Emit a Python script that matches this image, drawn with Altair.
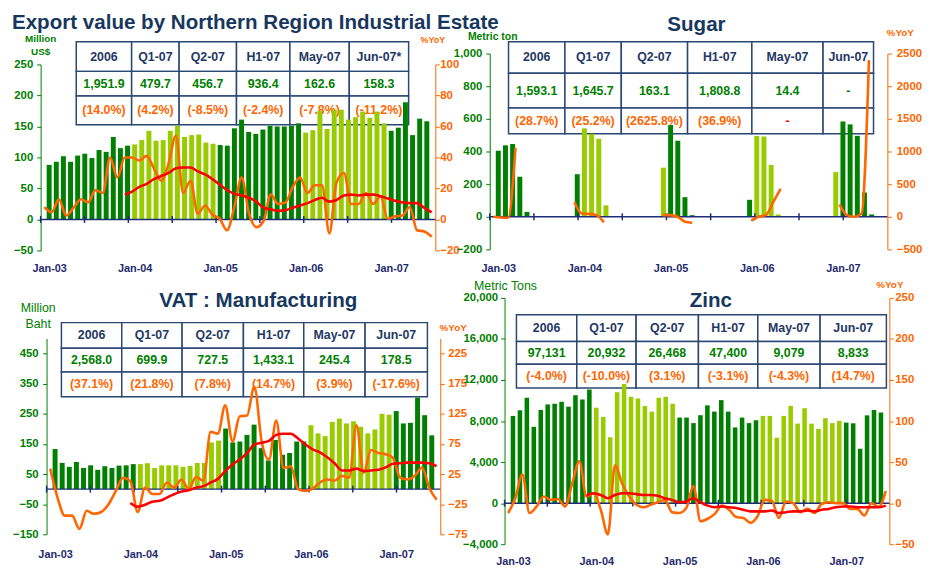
import json
import altair as alt
import pandas as pd

# ---------------- data ----------------
N_MONTHS = 54                      # Jan-03 .. Jun-07
years = [2003 + k // 12 for k in range(N_MONTHS)]
x_tick_labels = ["Jan-03", "Jan-04", "Jan-05", "Jan-06", "Jan-07"]

# Export value by Northern Region Industrial Estate (Million US$) and %YoY
export_val = [88, 93, 102, 93, 103, 106, 99, 112, 109, 133, 115, 119,
              121, 128, 143, 127, 128, 143, 151, 133, 136, 137, 124, 122,
              120, 119, 147, 161, 141, 138, 145, 151, 150, 150, 151, 155,
              140, 144, 175, 146, 177, 177, 161, 165, 174, 164, 174, 155,
              143, 148, 189, 136, 162.6, 158.3]
export_yoy = [8, 4.7, 13, 2.5, 7.5, 13, 11, 19, 17, 40, 27, 40,
              40, 38, 41, 33, 25, 36, 54, 17, 25, 3.6, 9, 3,
              0.4, -7, 8, 27, 4, -5, -1, 16, 10, 11, 21, 27,
              17, 22, 22, -9, 24, 30, 10, 10, 17, 10, 15, 0.4,
              2, 2.5, 8, -7, -7.8, -11.2]
export_ma = [None] * 11 + [16, 18, 21, 23, 26, 28, 30, 33, 33.5, 33.5, 31, 29, 26,
                           22.5, 19, 16.5, 15.5, 14, 11.5, 7.5, 6.5, 5.5, 6, 7.5, 9,
                           10.5, 12.5, 14, 11.5, 12.5, 15.5, 16, 15.5, 16, 16, 15, 13.5,
                           12, 11, 10.5, 10.5, 7.5, 4.5]

# Sugar (Metric ton) and %YoY
sugar_val = [405, 438, 446, 245, 30, 0, 0, 0, 0, 0, 0, 261,
             542, 508, 478, 70, 0, 0, 0, 0, 0, 0, 0, 301,
             562, 466, 120, 10, 0, 0, 0, 0, 0, 0, 0, 104,
             495, 492, 318, 14, 0, 0, 0, 0, 0, 0, 0, 274,
             584, 566, 496, 148.7, 14.4, 0]
sugar_yoy = [0, -10, -15, 1060, None, None, None, None, None, None, None, 226,
             50, 45, 25, -85, None, None, None, None, None, None, None, 25,
             25, 0, -75, -90, None, None, None, None, None, None, None, -60,
             0, 25, 225, 427, None, None, None, None, None, None, None, 190,
             25, 0, 50, 2400, None, None]

# VAT : Manufacturing (Million Baht) and %YoY
vat_val = [133, 87, 74, 90, 70, 79, 64, 76, 70, 78, 79, 83,
           83, 86, 70, 79, 79, 79, 74, 77, 87, 87, 155, 161,
           201, 155, 158, 180, 214, 136, 95, 163, 114, 120, 158, 158,
           212, 185, 176, 223, 234, 218, 225, 207, 185, 198, 250, 247,
           259, 218, 220, 303.6, 245.4, 178.5]
vat_yoy = [34, -14, -44, -44, -66, -36, -41, -38, -25, -3, 19, 13,
           -38, 2.5, -8, -8, 11, 2.5, 16, 0, 20, 14, 95, 92,
           139, 79, 121, 122, 170, 79, 49, 114, 35, 38, 0, -3,
           1, 11, 16, 14, 22, 19, 106, 27, 65, 60, 58, 52,
           19, 16, 22, 36, 2, -17.6]
vat_ma = [None] * 11 + [-23, -29, -26, -21, -19.5, -14, -8.5, -4, -2, 2.5, 5, 11, 17,
                        30, 41, 49, 60, 74, 77, 80, 90, 92, 92, 84, 74,
                        66, 61, 53, 43, 31, 31, 34, 30, 31, 32, 36, 42,
                        43, 44, 44, 44, 43, 38]

# Zinc (Metric Tons) and %YoY
zinc_val = [8500, 9050, 10270, 7440, 9080, 9620, 9690, 9880, 9400, 10520, 10100, 11070,
            9300, 8400, 6420, 10810, 11610, 10360, 10200, 9460, 8920, 10270, 10360, 9690,
            8340, 8340, 7800, 8570, 9530, 8920, 10040, 8920, 7380, 8340, 7800, 8080,
            8500, 8500, 6380, 8500, 9480, 7750, 9250, 7750, 7230, 8280, 7800, 8020,
            7850, 7780, 5300, 8556, 9079, 8833]
zinc_yoy = [-12, 6, 35, -12, -4, 8, 4, 5, -4, 24, 51, 8,
            12, -8, -38, 46, 24, 8, -2, -5, -2, 1, 4, -11,
            -12, -6, 21, -22, -19, -13, -3, -8, -17, -18, -24, -16,
            4, 3, -18, 2, 0, -11, -7, -12, -1, 1, 0, 0,
            -7, -7, -15, 0, -4.3, 14.7]
zinc_ma = [None] * 11 + [9, 12, 10, 6, 10, 12, 12, 11, 10, 10, 9, 6, 4,
                         1, 2, 6, 1, -3, -5, -4, -5, -6, -8, -10, -10,
                         -10, -9, -12, -11, -10, -10, -9, -10, -8, -7, -5, -4,
                         -4, -5, -5, -5, -5, -3]

# Summary tables
heads_export = ["2006", "Q1-07", "Q2-07", "H1-07", "May-07", "Jun-07*"]
heads_std = ["2006", "Q1-07", "Q2-07", "H1-07", "May-07", "Jun-07"]
export_tbl_val = ["1,951.9", "479.7", "456.7", "936.4", "162.6", "158.3"]
export_tbl_pct = ["(14.0%)", "(4.2%)", "(-8.5%)", "(-2.4%)", "(-7.8%)", "(-11.2%)"]
sugar_tbl_val = ["1,593.1", "1,645.7", "163.1", "1,808.8", "14.4", "-"]
sugar_tbl_pct = ["(28.7%)", "(25.2%)", "(2625.8%)", "(36.9%)", "-", ""]
vat_tbl_val = ["2,568.0", "699.9", "727.5", "1,433.1", "245.4", "178.5"]
vat_tbl_pct = ["(37.1%)", "(21.8%)", "(7.8%)", "(14.7%)", "(3.9%)", "(-17.6%)"]
zinc_tbl_val = ["97,131", "20,932", "26,468", "47,400", "9,079", "8,833"]
zinc_tbl_pct = ["(-4.0%)", "(-10.0%)", "(3.1%)", "(-3.1%)", "(-4.3%)", "(14.7%)"]

# ---------------- styles ----------------
FONT = "Liberation Sans"
DARK = "#008000"
LIGHT = "#99CC00"
ORANGE = "#FF6600"
RED = "#FF0000"
GREEN_TXT = "#008000"
TITLE_C = "#17375E"
NAVY = "#1F3864"
XLAB = "#1F2A6E"
ZERO_C = "#1C2C78"
BORDER = "#2B4774"


def table_frame(heads, vals, pcts, cols, rows):
    xb = [0]
    for w in cols:
        xb.append(xb[-1] + w)
    yb = [0]
    for h in rows:
        yb.append(yb[-1] + h)
    recs = []
    for r, (texts, kind) in enumerate([(heads, "h"), (vals, "v"), (pcts, "p")]):
        for c, t in enumerate(texts):
            k = "d" if (kind == "p" and t == "-") else kind
            recs.append(dict(x0=xb[c], x1=xb[c + 1], y0=yb[r], y1=yb[r + 1],
                             xm=(xb[c] + xb[c + 1]) / 2, ym=(yb[r] + yb[r + 1]) / 2,
                             txt=t, kind=k))
    return pd.DataFrame(recs), xb[-1], yb[-1]


def make_panel(vals, yoy, ma, heads, tvals, tpcts, L):
    df = pd.DataFrame({"i": list(range(N_MONTHS)), "val": vals, "yoy": yoy,
                       "ma": ma, "year": years})
    df["xc"] = df["i"] + 0.5
    df["seg"] = df["yoy"].isna().cumsum()

    xs = alt.Scale(domain=[0, N_MONTHS], range=L["xrange"], nice=False, zero=False)
    yl = alt.Scale(domain=L["ydom"], range=L["yrange"], nice=False, zero=False)
    yr = alt.Scale(domain=L["rdom"], range=L["yrange"], nice=False, zero=False)

    label_expr = json.dumps(x_tick_labels) + "[floor(datum.value / 12)]"
    xaxis = alt.Axis(values=[12 * k + 0.5 for k in range(len(x_tick_labels))],
                     labelExpr=label_expr, domain=False, ticks=False, tickSize=0,
                     grid=False, labelColor=XLAB, labelFontWeight="bold",
                     labelFontSize=11, labelPadding=L["xpad"], labelFlush=False,
                     labelOverlap=False, title=None)
    laxis = alt.Axis(orient="left", values=L["lticks"], format=L["lfmt"], grid=False,
                     domainColor=DARK, tickColor=DARK, tickSize=4,
                     labelColor=GREEN_TXT, labelFontWeight="bold", labelFontSize=11.5,
                     labelPadding=L["lpad"], labelFlush=False, labelOverlap=False,
                     offset=L["loff"], title=L["ltitle"], titleAngle=0,
                     titleAlign="center", titleBaseline="alphabetic",
                     titleX=L["ltx"], titleY=L["lty"], titleColor=GREEN_TXT,
                     titleFontSize=L["ltfs"], titleFontWeight=L["ltfw"],
                     titleLineHeight=L["ltlh"])
    raxis = alt.Axis(orient="right", values=L["rticks"], format="d", grid=False,
                     domainColor=ORANGE, tickColor=ORANGE, tickSize=4,
                     labelColor=ORANGE, labelFontWeight="bold", labelFontSize=11.5,
                     labelPadding=L["rpad"], labelFlush=False, labelOverlap=False,
                     title="%YoY", titleAngle=0, titleAlign="center",
                     titleBaseline="alphabetic", titleX=L["rtx"], titleY=L["rty"],
                     titleColor=ORANGE, titleFontSize=L["rtfs"], titleFontWeight="bold")

    tdf, tw, th = table_frame(heads, tvals, tpcts, L["cols"], L["rows"])
    tx = alt.Scale(domain=[0, tw], range=[L["tox"], L["tox"] + tw], nice=False, zero=False)
    ty = alt.Scale(domain=[0, th], range=[L["toy"], L["toy"] + th], nice=False, zero=False)

    t_rect = alt.Chart(tdf).mark_rect(fill="white", stroke=BORDER, strokeWidth=1.5).encode(
        x=alt.X("x0:Q", scale=tx, axis=None), x2="x1:Q",
        y=alt.Y("y0:Q", scale=ty, axis=None), y2="y1:Q")
    t_text = alt.Chart(tdf).mark_text(fontSize=12.5, fontWeight="bold",
                                      baseline="middle", align="center").encode(
        x=alt.X("xm:Q", scale=tx, axis=None),
        y=alt.Y("ym:Q", scale=ty, axis=None),
        text="txt:N",
        color=alt.Color("kind:N", scale=alt.Scale(domain=["h", "v", "p", "d"],
                                                  range=[NAVY, GREEN_TXT, ORANGE, RED]),
                        legend=None))

    bars = alt.Chart(df).mark_bar(width=L["bw"]).encode(
        x=alt.X("xc:Q", scale=xs, axis=xaxis),
        y=alt.Y("val:Q", scale=yl, axis=laxis),
        y2=alt.datum(0),
        color=alt.Color("year:O", scale=alt.Scale(domain=[2003, 2004, 2005, 2006, 2007],
                                                  range=[DARK, LIGHT, DARK, LIGHT, DARK]),
                        legend=None))

    base_df = pd.DataFrame({"a": [0], "b": [N_MONTHS], "z": [0]})
    zero = alt.Chart(base_df).mark_rule(color=ZERO_C, strokeWidth=1.5).encode(
        x=alt.X("a:Q", scale=xs, axis=None), x2="b:Q",
        y=alt.Y("z:Q", scale=yl, axis=None))
    tick_df = pd.DataFrame({"t": list(range(0, 49, 6)), "z": 0})
    ticks = alt.Chart(tick_df).mark_tick(orient="vertical", size=7, thickness=1.5,
                                         color=ZERO_C, opacity=1).encode(
        x=alt.X("t:Q", scale=xs, axis=None),
        y=alt.Y("z:Q", scale=yl, axis=None))

    orange = alt.Chart(df).transform_filter("isValid(datum.yoy)").mark_line(
        color=ORANGE, strokeWidth=2.6, interpolate="monotone").encode(
        x=alt.X("xc:Q", scale=xs, axis=None),
        y=alt.Y("yoy:Q", scale=yr, axis=raxis),
        detail="seg:N")

    layers = [t_rect, t_text, bars, zero, ticks, orange]
    if ma is not None:
        red = alt.Chart(df).transform_filter("isValid(datum.ma)").mark_line(
            color=RED, strokeWidth=2.6, interpolate="monotone").encode(
            x=alt.X("xc:Q", scale=xs, axis=None),
            y=alt.Y("ma:Q", scale=yr, axis=None))
        layers.append(red)

    title = alt.TitleParams(text=L["title"], anchor=L["anchor"], dx=L["tdx"],
                            offset=L["toff"], baseline="alphabetic", orient="top",
                            frame="group", fontSize=20.8, fontWeight="bold",
                            color=TITLE_C, font=FONT)
    return alt.layer(*layers).resolve_scale(
        x="independent", y="independent", color="independent"
    ).properties(width=L["gw"], height=L["gh"], title=title)


TL = dict(gw=399, gh=199, xrange=[0, 399], yrange=[199, 11],
          ydom=[-50, 250], rdom=[-20, 100],
          lticks=list(range(-50, 251, 50)), lfmt="d", rticks=list(range(-20, 101, 20)),
          lpad=4, rpad=0.5, loff=0, xpad=12, bw=5,
          ltitle=["Million", "US$"], ltx=-0.5, lty=-12.5, ltfs=10, ltfw="bold", ltlh=13.5,
          rtx=-3, rty=-11, rtfs=9,
          cols=[56, 48, 58, 54, 60, 60], rows=[30, 25, 29], tox=36, toy=-12,
          title="Export value by Northern Region Industrial Estate",
          anchor="start", tdx=-29, toff=-16)
TR = dict(gw=402, gh=198, xrange=[0, 402], yrange=[198, 0],
          ydom=[-200, 1000], rdom=[-500, 2500],
          lticks=list(range(-200, 1001, 200)), lfmt=",d", rticks=list(range(-500, 2501, 500)),
          lpad=4, rpad=5, loff=0, xpad=13, bw=5,
          ltitle="Metric ton", ltx=2.5, lty=-14.3, ltfs=10.5, ltfw="bold", ltlh=13,
          rtx=12.5, rty=-18.5, rtfs=10,
          cols=[57, 57, 67, 65, 72, 51], rows=[32, 35, 26], tox=19, toy=-12,
          title="Sugar", anchor="middle", tdx=8, toff=-24)
BL = dict(gw=404, gh=239, xrange=[6, 404], yrange=[239, 41],
          ydom=[-150, 500], rdom=[-75, 250],
          lticks=list(range(-150, 451, 100)), lfmt="d", rticks=list(range(-75, 226, 50)),
          lpad=4.5, rpad=3.5, loff=-6, xpad=14, bw=5,
          ltitle=["Million", "Baht"], ltx=-9, lty=14, ltfs=12.5, ltfw="normal", ltlh=15.5,
          rtx=12.5, rty=33, rtfs=10,
          cols=[61, 61, 62, 61, 62, 63], rows=[26, 24, 25], tox=21, toy=25,
          title="VAT : Manufacturing", anchor="middle", tdx=18, toff=-30)
BR = dict(gw=404, gh=249, xrange=[15, 404], yrange=[249, 0],
          ydom=[-4000, 20000], rdom=[-50, 250],
          lticks=list(range(-4000, 20001, 4000)), lfmt=",d", rticks=list(range(-50, 251, 50)),
          lpad=3, rpad=1.5, loff=-15, xpad=12, bw=4.6,
          ltitle="Metric Tons", ltx=0.5, lty=-8, ltfs=12.5, ltfw="normal", ltlh=13,
          rtx=0, rty=-10.5, rtfs=10,
          cols=[61, 60, 63, 60, 63, 67], rows=[27, 23, 24], tox=27, toy=17,
          title="Zinc", anchor="middle", tdx=21.5, toff=-48)

p_tl = make_panel(export_val, export_yoy, export_ma, heads_export,
                  export_tbl_val, export_tbl_pct, TL)
p_tr = make_panel(sugar_val, sugar_yoy, None, heads_std,
                  sugar_tbl_val, sugar_tbl_pct, TR)
p_bl = make_panel(vat_val, vat_yoy, vat_ma, heads_std,
                  vat_tbl_val, vat_tbl_pct, BL)
p_br = make_panel(zinc_val, zinc_yoy, zinc_ma, heads_std,
                  zinc_tbl_val, zinc_tbl_pct, BR)

chart = alt.concat(p_tl, p_tr, p_bl, p_br, columns=2,
                   spacing={"row": 48, "column": 50},
                   bounds="flush", align="each").properties(
    padding={"left": 4, "top": 0, "right": 0, "bottom": 0}
).configure(font=FONT).configure_view(stroke=None)

chart.save("out.html", embed_options={"renderer": "svg", "actions": False})
